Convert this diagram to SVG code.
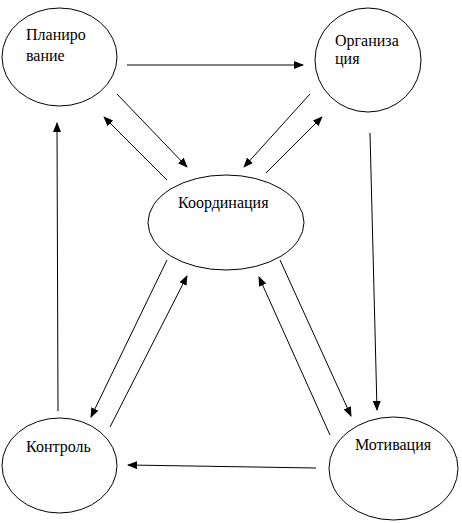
<svg xmlns="http://www.w3.org/2000/svg" width="462" height="523" viewBox="0 0 462 523">
<defs>
<marker id="ah" markerUnits="userSpaceOnUse" markerWidth="10" markerHeight="8" refX="9" refY="4" orient="auto">
<path d="M0,0 L10,4 L0,8 Z" fill="#000"/>
</marker>
<style>
.n{fill:#fff;stroke:#000;stroke-width:1}
.c line{stroke:#000;stroke-width:1;marker-end:url(#ah)}
</style>
</defs>
<rect width="462" height="523" fill="#fff"/>
<g font-family="Liberation Serif, DejaVu Serif, serif" font-size="16" fill="#000">
<g id="planirovanie"><ellipse class="n" cx="59.5" cy="57" rx="57.5" ry="49"/><text x="26" y="40">Планиро</text><text x="26" y="61">вание</text></g>
<g id="organizatsiya"><ellipse class="n" cx="368" cy="60" rx="53" ry="52"/><text x="335" y="46">Организа</text><text x="335" y="64">ция</text></g>
<g id="koordinatsiya"><ellipse class="n" cx="226" cy="222.5" rx="78" ry="47.5"/><text x="178" y="208">Координация</text></g>
<g id="kontrol"><ellipse class="n" cx="59.5" cy="465.5" rx="57.5" ry="47.5"/><text x="26" y="452">Контроль</text></g>
<g id="motivatsiya"><ellipse class="n" cx="393.5" cy="468.5" rx="64.5" ry="51.5"/><text x="355" y="450">Мотивация</text></g>
</g>
<g class="c" id="connectors">
<line x1="127" y1="65" x2="303" y2="65"/>
<line x1="117" y1="94" x2="187" y2="167"/>
<line x1="167" y1="180" x2="104" y2="117"/>
<line x1="310" y1="94" x2="244" y2="167"/>
<line x1="266" y1="173" x2="322" y2="117"/>
<line x1="58" y1="411" x2="57" y2="123"/>
<line x1="370" y1="133" x2="377" y2="410"/>
<line x1="167" y1="260" x2="91" y2="417"/>
<line x1="110" y1="427" x2="187" y2="276"/>
<line x1="330" y1="435" x2="259" y2="277"/>
<line x1="280" y1="260" x2="351" y2="416"/>
<line x1="316" y1="468" x2="128" y2="465"/>
</g>
</svg>
